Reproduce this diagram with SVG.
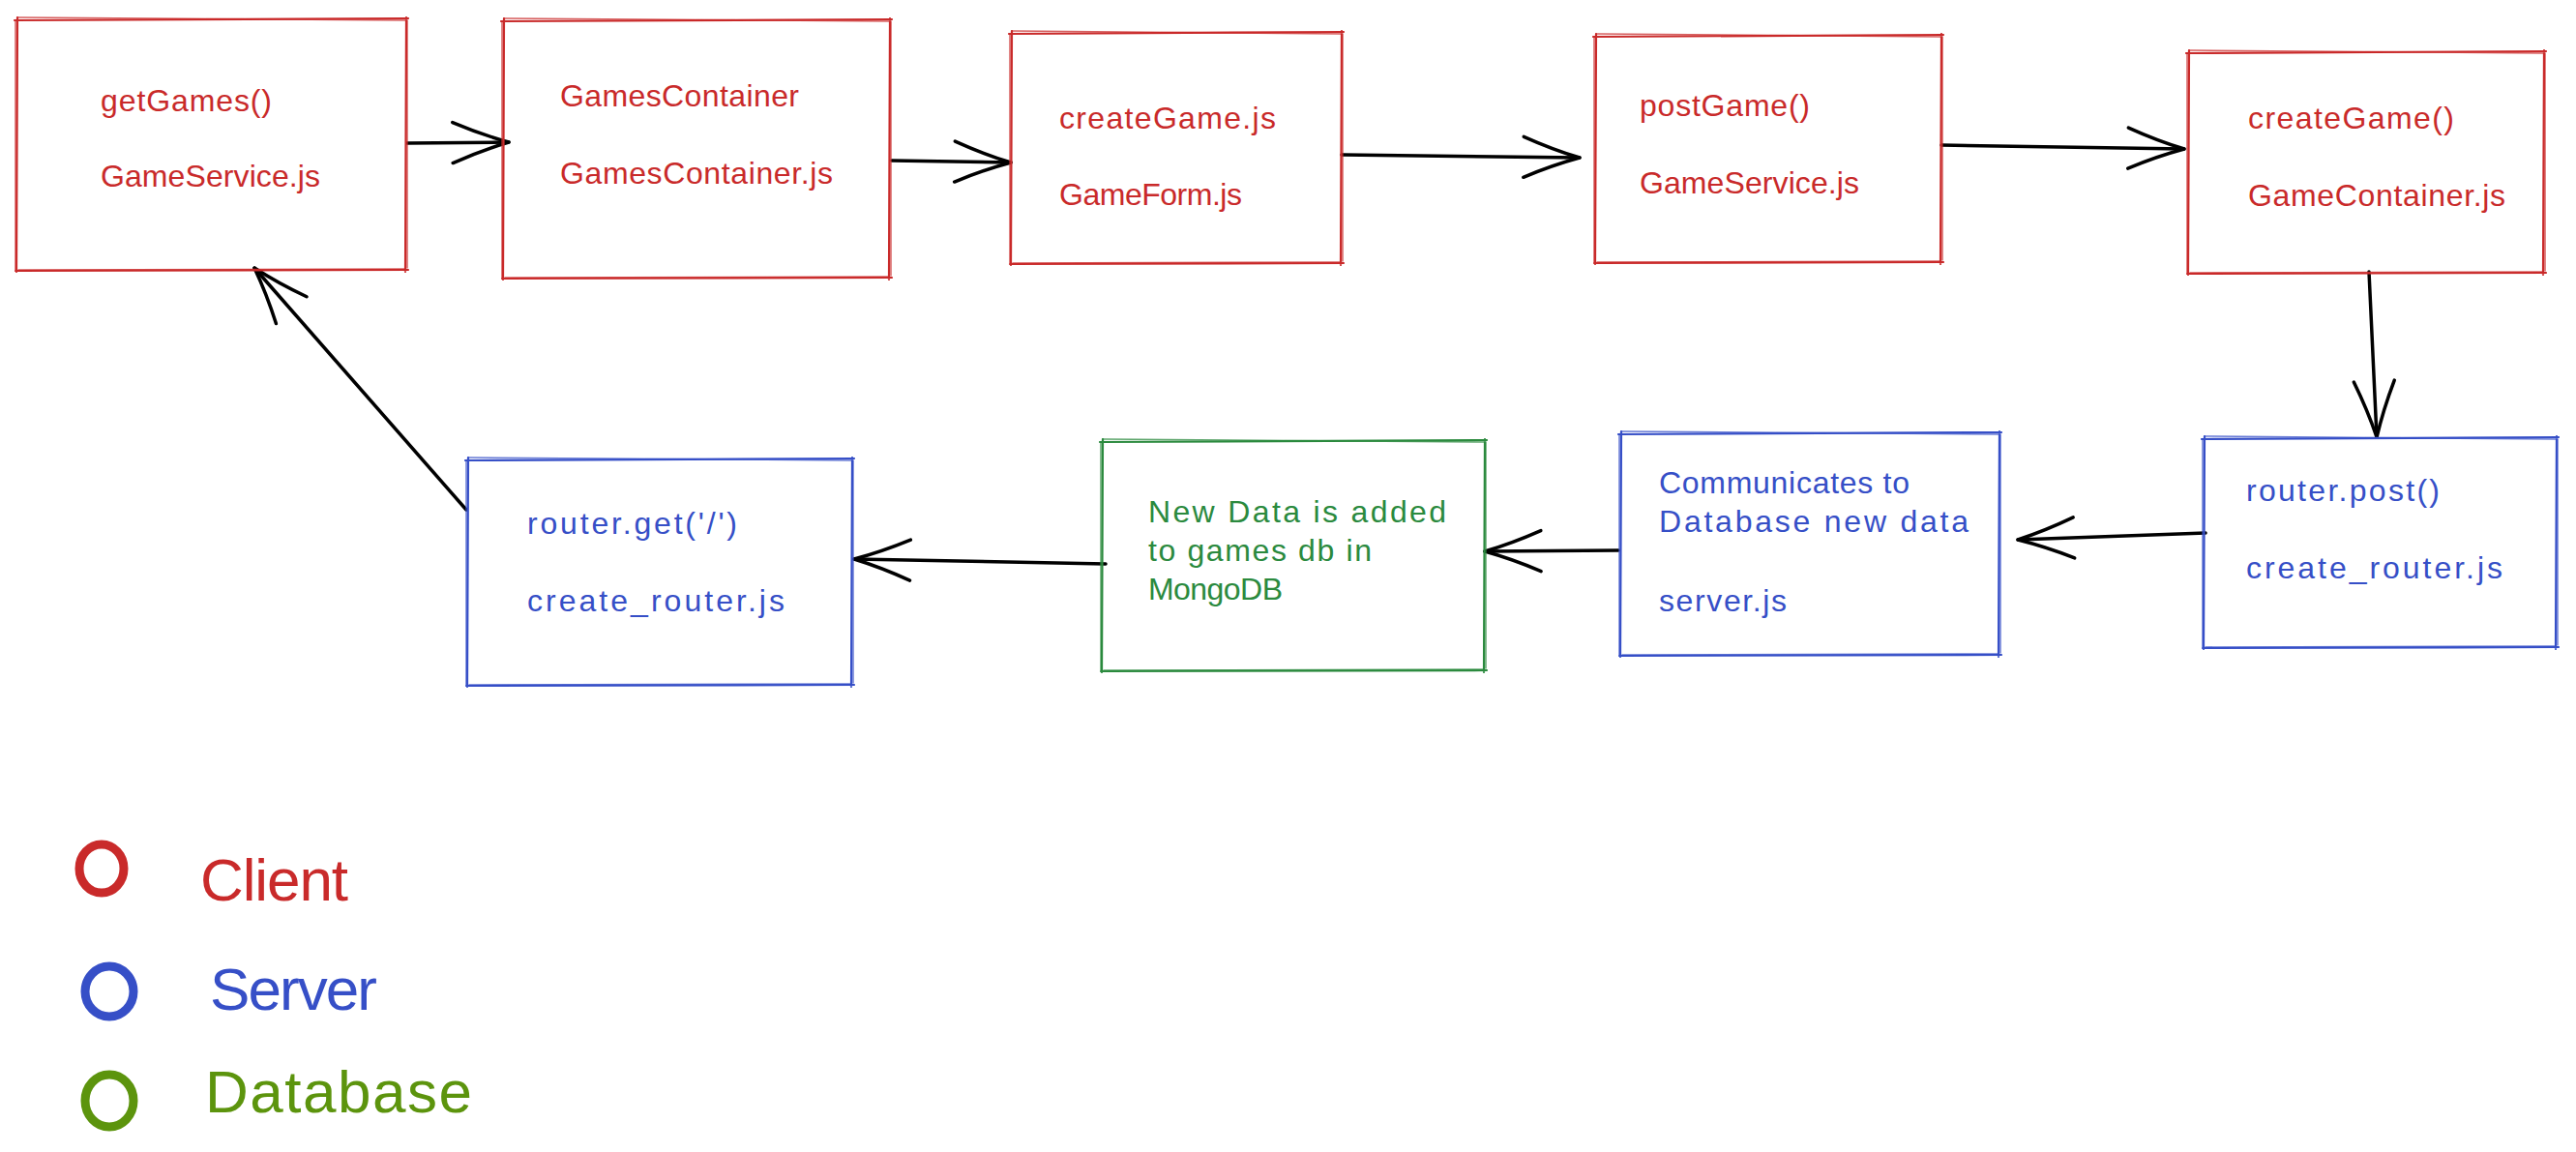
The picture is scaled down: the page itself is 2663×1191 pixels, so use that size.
<svg xmlns="http://www.w3.org/2000/svg" width="2663" height="1191" viewBox="0 0 2663 1191">
<style>
.bx{fill:none;stroke-linecap:round;stroke-linejoin:round}
.p1{stroke-width:2.2}
.p2{stroke-width:1.5;opacity:0.75}
.red{stroke:#c92a2a}
.blue{stroke:#364fc7}
.green{stroke:#2b8a3e}
.t{font-family:"Liberation Sans",Arial,sans-serif;font-size:32px}
.tr{fill:#c92a2a}
.tb{fill:#364fc7}
.tg{fill:#2b8a3e}
.lg{font-family:"Liberation Sans",Arial,sans-serif;font-size:62px}
.conn{fill:none;stroke:#000;stroke-width:3.5;stroke-linecap:round;marker-end:url(#ah)}
</style>
<defs>
<marker id="ah" markerUnits="userSpaceOnUse" viewBox="-64 -26 70 52" markerWidth="70" markerHeight="52" refX="0" refY="0" orient="auto">
<path d="M-58,-21 Q-28,-8 0,0 Q-28,8 -58,21" fill="none" stroke="#000" stroke-width="3.5" stroke-linecap="round" stroke-linejoin="round"/>
</marker>
</defs>
<rect x="0" y="0" width="2663" height="1191" fill="#ffffff"/>

<g id="connectors">
<path class="conn" d="M421,148 L526,147"/>
<path class="conn" d="M922,166 L1045,168"/>
<path class="conn" d="M1387,160 L1633,163"/>
<path class="conn" d="M2007,150 L2258,154"/>
<path class="conn" d="M2449,281 L2457,452"/>
<path class="conn" d="M2280,551 L2086,558"/>
<path class="conn" d="M1673,569 L1535,570"/>
<path class="conn" d="M1143,583 L883,578"/>
<path class="conn" d="M482,527 L263,277"/>
</g>

<g id="node-getGames">
<path class="bx p1 red" d="M15,21 L422,19 M420,18 L419,281 M422,279 L16,280 M17,281 L18,18"/>
<path class="bx p2 red" d="M18,18 L419,21 M421,21 L421,277 M419,278 L19,279 M16,279 L16,22"/>
<text class="t tr" x="104" y="115" textLength="177">getGames()</text>
<text class="t tr" x="104" y="193" textLength="227">GameService.js</text>
</g>

<g id="node-gamesContainer">
<path class="bx p1 red" d="M518,22 L922,20 M920,19 L919,289 M922,287 L519,288 M520,289 L521,19"/>
<path class="bx p2 red" d="M521,19 L919,22 M921,22 L921,285 M919,286 L522,287 M519,287 L519,23"/>
<text class="t tr" x="579" y="110" textLength="247">GamesContainer</text>
<text class="t tr" x="579" y="190" textLength="282">GamesContainer.js</text>
</g>

<g id="node-createGameJs">
<path class="bx p1 red" d="M1043,35 L1389,33 M1387,32 L1386,274 M1389,272 L1044,273 M1045,274 L1046,32"/>
<path class="bx p2 red" d="M1046,32 L1386,35 M1388,35 L1388,270 M1386,271 L1047,272 M1044,272 L1044,36"/>
<text class="t tr" x="1095" y="133" textLength="224">createGame.js</text>
<text class="t tr" x="1095" y="212" textLength="189">GameForm.js</text>
</g>

<g id="node-postGame">
<path class="bx p1 red" d="M1647,38 L2009,36 M2007,35 L2006,273 M2009,271 L1648,272 M1649,273 L1650,35"/>
<path class="bx p2 red" d="M1650,35 L2006,38 M2008,38 L2008,269 M2006,270 L1651,271 M1648,271 L1648,39"/>
<text class="t tr" x="1695" y="120" textLength="176">postGame()</text>
<text class="t tr" x="1695" y="200" textLength="227">GameService.js</text>
</g>

<g id="node-createGame">
<path class="bx p1 red" d="M2260,55 L2632,53 M2630,52 L2629,284 M2632,282 L2261,283 M2262,284 L2263,52"/>
<path class="bx p2 red" d="M2263,52 L2629,55 M2631,55 L2631,280 M2629,281 L2264,282 M2261,282 L2261,56"/>
<text class="t tr" x="2324" y="133" textLength="213">createGame()</text>
<text class="t tr" x="2324" y="213" textLength="266">GameContainer.js</text>
</g>

<g id="node-routerPost">
<path class="bx p1 blue" d="M2276,454 L2645,452 M2643,451 L2642,671 M2645,669 L2277,670 M2278,671 L2279,451"/>
<path class="bx p2 blue" d="M2279,451 L2642,454 M2644,454 L2644,667 M2642,668 L2280,669 M2277,669 L2277,455"/>
<text class="t tb" x="2322" y="518" textLength="200">router.post()</text>
<text class="t tb" x="2322" y="598" textLength="265">create_router.js</text>
</g>

<g id="node-server">
<path class="bx p1 blue" d="M1673,449 L2069,447 M2067,446 L2066,679 M2069,677 L1674,678 M1675,679 L1676,446"/>
<path class="bx p2 blue" d="M1676,446 L2066,449 M2068,449 L2068,675 M2066,676 L1677,677 M1674,677 L1674,450"/>
<text class="t tb" x="1715" y="510" textLength="259">Communicates to</text>
<text class="t tb" x="1715" y="550" textLength="320">Database new data</text>
<text class="t tb" x="1715" y="632" textLength="132">server.js</text>
</g>

<g id="node-mongodb">
<path class="bx p1 green" d="M1137,457 L1537,455 M1535,454 L1534,695 M1537,693 L1138,694 M1139,695 L1140,454"/>
<path class="bx p2 green" d="M1140,454 L1534,457 M1536,457 L1536,691 M1534,692 L1141,693 M1138,693 L1138,458"/>
<text class="t tg" x="1187" y="540" textLength="308">New Data is added</text>
<text class="t tg" x="1187" y="580" textLength="231">to games db in</text>
<text class="t tg" x="1187" y="620" textLength="139">MongoDB</text>
</g>

<g id="node-routerGet">
<path class="bx p1 blue" d="M481,476 L883,474 M881,473 L880,710 M883,708 L482,709 M483,710 L484,473"/>
<path class="bx p2 blue" d="M484,473 L880,476 M882,476 L882,706 M880,707 L485,708 M482,708 L482,477"/>
<text class="t tb" x="545" y="552" textLength="217">router.get('/')</text>
<text class="t tb" x="545" y="632" textLength="266">create_router.js</text>
</g>

<g id="legend">
<ellipse cx="105" cy="898" rx="23" ry="25" fill="none" stroke="#c92a2a" stroke-width="9"/>
<text class="lg" x="207" y="931" fill="#c92a2a" textLength="153">Client</text>
<ellipse cx="113" cy="1025" rx="25" ry="26" fill="none" stroke="#364fc7" stroke-width="9"/>
<text class="lg" x="217" y="1044" fill="#364fc7" textLength="173">Server</text>
<ellipse cx="113" cy="1138" rx="25" ry="27" fill="none" stroke="#5c940d" stroke-width="9"/>
<text class="lg" x="212" y="1150" fill="#5c940d" textLength="276">Database</text>
</g>
</svg>
